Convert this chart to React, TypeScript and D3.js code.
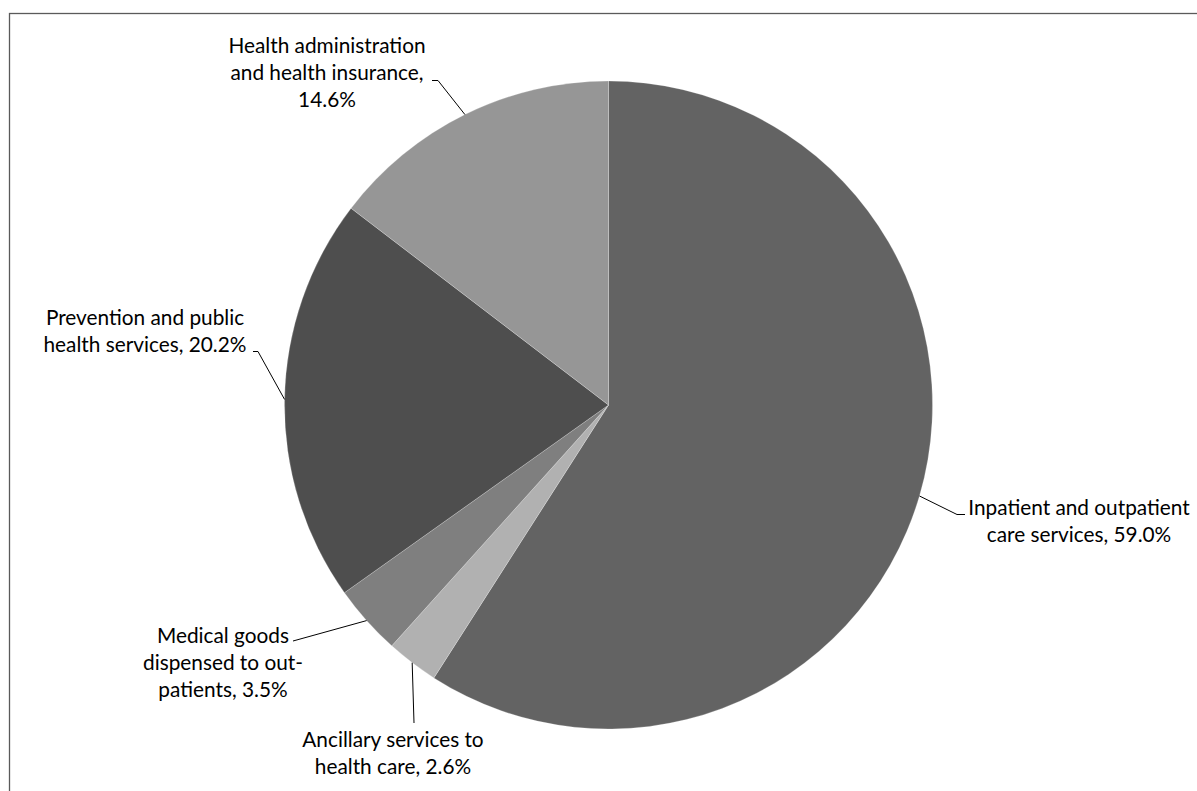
import React from "react";
import * as d3 from "d3";

const categories = [
  "Inpatient and outpatient\ncare services",
  "Ancillary services to\nhealth care",
  "Medical goods\ndispensed to out-\npatients",
  "Prevention and public\nhealth services",
  "Health administration\nand health insurance",
];
const values = [59.0, 2.6, 3.5, 20.2, 14.6];
const colors = ["#636363", "#b1b1b1", "#7f7f7f", "#4e4e4e", "#969696"];
const separators = [", ", ", ", ", ", ", ", ",\n"];

// label layout: text center x, first baseline y, leader path points after edge point
const labelLayout = [
  { cx: 1079, y0: 515, pts: [[957, 514.5], [965, 514.5]] },
  { cx: 393, y0: 747, pts: [[414, 723]] },
  { cx: 223, y0: 643, pts: [[293, 641]] },
  { cx: 145, y0: 325, pts: [[258, 351.5], [253, 351.5]] },
  { cx: 327, y0: 53, pts: [[438, 80.5], [432, 80.5]] },
];

const W = 1197;
const H = 791;
const CX = 608.5;
const CY = 405;
const R = 324;
const LINE_H = 27;

export default function App() {
  const data = categories.map((c, i) => ({ c, v: values[i], i }));
  const pie = d3.pie<any>().value((d) => d.v).sort(null);
  const arcs = pie(data);
  const arcGen = d3.arc<any>().innerRadius(0).outerRadius(R);

  return (
    <svg
      width={W}
      height={H}
      style={{ position: "absolute", left: 0, top: 0, background: "#fff" }}
      fontFamily="Lato, 'Open Sans', sans-serif"
    >
      <rect x={9.5} y={13.5} width={W + 20} height={H + 20} fill="#fff" stroke="#5a5a5a" strokeWidth={1.3} />
      <g transform={`translate(${CX},${CY})`}>
        {arcs.map((a, i) => (
          <path key={i} d={arcGen(a) as string} fill={colors[i]} stroke="#ffffff" strokeWidth={0.5} strokeOpacity={0.45} />
        ))}
      </g>
      {arcs.map((a, i) => {
        const mid = (a.startAngle + a.endAngle) / 2;
        const ex = CX + R * Math.sin(mid);
        const ey = CY - R * Math.cos(mid);
        const L = labelLayout[i];
        const pts = [[ex, ey], ...L.pts];
        const line = d3.line()(pts as [number, number][]) as string;
        const text = `${categories[i]}${separators[i]}${values[i].toFixed(1)}%`;
        const lines = text.split("\n");
        return (
          <g key={i}>
            <path d={line} fill="none" stroke="#000" strokeWidth={1} />
            <text textAnchor="middle" fontSize={20.8} fill="#000">
              {lines.map((t, j) => (
                <tspan key={j} x={L.cx} y={L.y0 + j * LINE_H}>
                  {t}
                </tspan>
              ))}
            </text>
          </g>
        );
      })}
    </svg>
  );
}
